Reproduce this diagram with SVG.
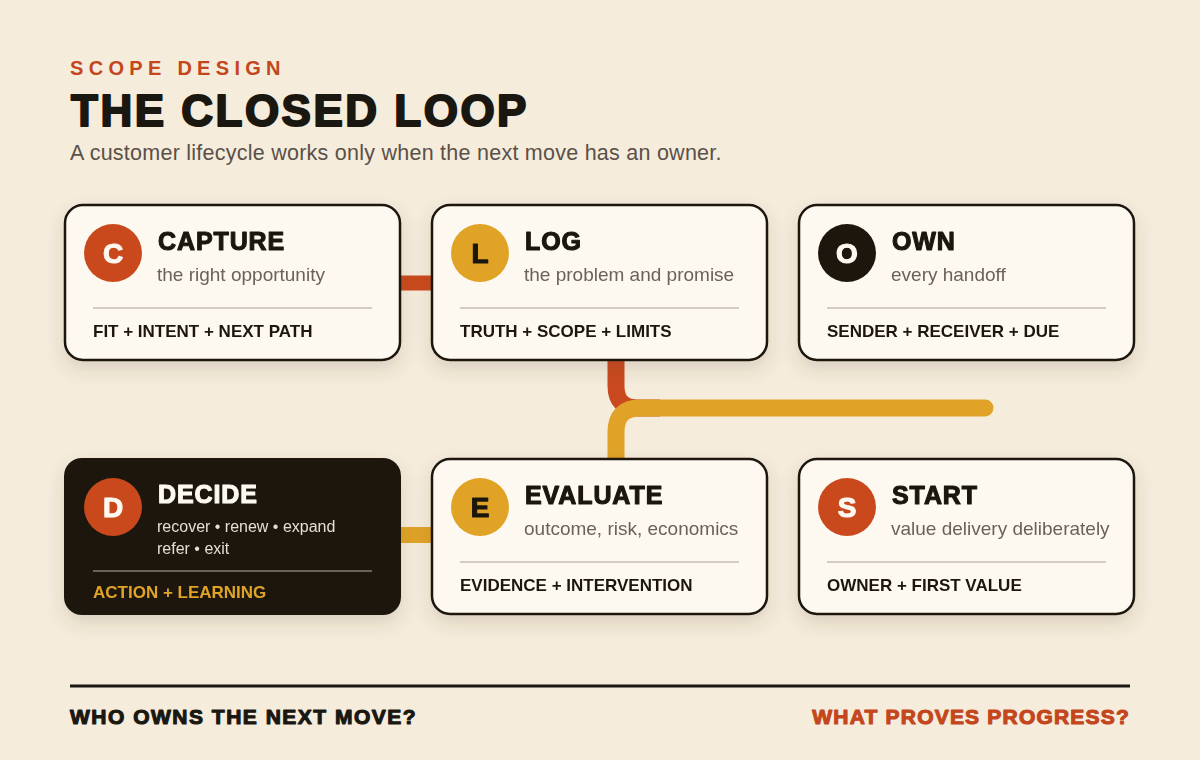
<svg xmlns="http://www.w3.org/2000/svg" width="1200" height="760" viewBox="0 0 1200 760">
<defs>
<filter id="sh" x="-20%" y="-20%" width="140%" height="150%">
<feDropShadow dx="0" dy="8" stdDeviation="9" flood-color="#5a4020" flood-opacity="0.16"/>
</filter>
<style>
.card{fill:#fdf9f0;stroke:#1a1711;stroke-width:2.5}
.dark{fill:#1a1710}
.heavy{font-family:"Liberation Sans",Arial,sans-serif;font-weight:700;stroke-width:1.1;stroke-linejoin:round}
.ttl{font-size:25px;fill:#1a1711;stroke:#1a1711;letter-spacing:0.9px}
.sub{font-family:"Liberation Sans",Arial,sans-serif;font-size:19px;fill:#6b6259}
.sub2{font-family:"Liberation Sans",Arial,sans-serif;font-size:16px;fill:#e6decf}
.foot{font-family:"Liberation Sans",Arial,sans-serif;font-weight:700;font-size:17px;fill:#1a1711}
.div{stroke:#d3cdc1;stroke-width:2}
.ltr{font-size:28px;text-anchor:middle}
.conn{fill:none;stroke-width:17}
</style>
</defs>
<rect width="1200" height="760" fill="#f5ecdc"/>

<g id="header">
<text x="70" y="75" font-family="Liberation Sans,Arial,sans-serif" font-weight="700" font-size="20" letter-spacing="5.3" fill="#c4461c">SCOPE DESIGN</text>
<text x="71" y="126" class="heavy" font-size="44" letter-spacing="2.5" fill="#1a1711" stroke="#1a1711" style="stroke-width:2">THE CLOSED LOOP</text>
<text x="70" y="160" font-family="Liberation Sans,Arial,sans-serif" font-size="21.5" letter-spacing="0.25" fill="#5a5048">A customer lifecycle works only when the next move has an owner.</text>
</g>

<g id="connectors">
<line x1="398" y1="283" x2="434" y2="283" stroke="#c94a1e" stroke-width="15"/>
<line x1="399" y1="535" x2="434" y2="535" stroke="#e0a328" stroke-width="16"/>
<path class="conn" d="M616,355 V386 Q616,408 638,408 H660" stroke="#c94a1e"/>
<path class="conn" d="M616,465 V432 Q616,408 640,408 H985" stroke="#e0a328" stroke-linecap="round"/>
</g>

<g id="capture" filter="url(#sh)">
<rect class="card" x="65" y="205" width="335" height="155" rx="18"/>
<circle cx="113" cy="253" r="29" fill="#c94a1e"/>
<text x="113" y="263" class="heavy ltr" fill="#fdf9f0" stroke="#fdf9f0">C</text>
<text x="158" y="250" class="heavy ttl">CAPTURE</text>
<text x="157" y="281" class="sub">the right opportunity</text>
<line class="div" x1="93" y1="308" x2="372" y2="308"/>
<text x="93" y="337" class="foot">FIT + INTENT + NEXT PATH</text>
</g>

<g id="log" filter="url(#sh)">
<rect class="card" x="432" y="205" width="335" height="155" rx="18"/>
<circle cx="480" cy="253" r="29" fill="#e0a328"/>
<text x="480" y="263" class="heavy ltr" fill="#1a1711" stroke="#1a1711">L</text>
<text x="525" y="250" class="heavy ttl">LOG</text>
<text x="524" y="281" class="sub">the problem and promise</text>
<line class="div" x1="460" y1="308" x2="739" y2="308"/>
<text x="460" y="337" class="foot">TRUTH + SCOPE + LIMITS</text>
</g>

<g id="own" filter="url(#sh)">
<rect class="card" x="799" y="205" width="335" height="155" rx="18"/>
<circle cx="847" cy="253" r="29" fill="#1a1711"/>
<text x="847" y="263" class="heavy ltr" fill="#fdf9f0" stroke="#fdf9f0">O</text>
<text x="892" y="250" class="heavy ttl">OWN</text>
<text x="891" y="281" class="sub">every handoff</text>
<line class="div" x1="827" y1="308" x2="1106" y2="308"/>
<text x="827" y="337" class="foot">SENDER + RECEIVER + DUE</text>
</g>

<g id="decide" filter="url(#sh)">
<rect class="dark" x="64" y="458" width="337" height="157" rx="18"/>
<circle cx="113" cy="507" r="29" fill="#c94a1e"/>
<text x="113" y="517" class="heavy ltr" fill="#fdf9f0" stroke="#fdf9f0">D</text>
<text x="158" y="503" class="heavy ttl" style="fill:#fdf9f0;stroke:#fdf9f0">DECIDE</text>
<text x="157" y="532" class="sub2">recover • renew • expand</text>
<text x="157" y="554" class="sub2">refer • exit</text>
<line x1="93" y1="571" x2="372" y2="571" stroke="#6b6257" stroke-width="2"/>
<text x="93" y="598" class="foot" style="fill:#e0a328">ACTION + LEARNING</text>
</g>

<g id="evaluate" filter="url(#sh)">
<rect class="card" x="432" y="459" width="335" height="155" rx="18"/>
<circle cx="480" cy="507" r="29" fill="#e0a328"/>
<text x="480" y="517" class="heavy ltr" fill="#1a1711" stroke="#1a1711">E</text>
<text x="525" y="504" class="heavy ttl">EVALUATE</text>
<text x="524" y="535" class="sub">outcome, risk, economics</text>
<line class="div" x1="460" y1="562" x2="739" y2="562"/>
<text x="460" y="591" class="foot">EVIDENCE + INTERVENTION</text>
</g>

<g id="start" filter="url(#sh)">
<rect class="card" x="799" y="459" width="335" height="155" rx="18"/>
<circle cx="847" cy="507" r="29" fill="#c94a1e"/>
<text x="847" y="517" class="heavy ltr" fill="#fdf9f0" stroke="#fdf9f0">S</text>
<text x="892" y="504" class="heavy ttl">START</text>
<text x="891" y="535" class="sub">value delivery deliberately</text>
<line class="div" x1="827" y1="562" x2="1106" y2="562"/>
<text x="827" y="591" class="foot">OWNER + FIRST VALUE</text>
</g>

<g id="footer">
<line x1="70" y1="686" x2="1130" y2="686" stroke="#1a1711" stroke-width="3"/>
<text x="70" y="724" class="heavy" font-size="21" letter-spacing="1.5" fill="#1a1711" stroke="#1a1711">WHO OWNS THE NEXT MOVE?</text>
<text x="1130" y="724" class="heavy" font-size="21" letter-spacing="1.2" fill="#c4461c" stroke="#c4461c" text-anchor="end">WHAT PROVES PROGRESS?</text>
</g>
</svg>
